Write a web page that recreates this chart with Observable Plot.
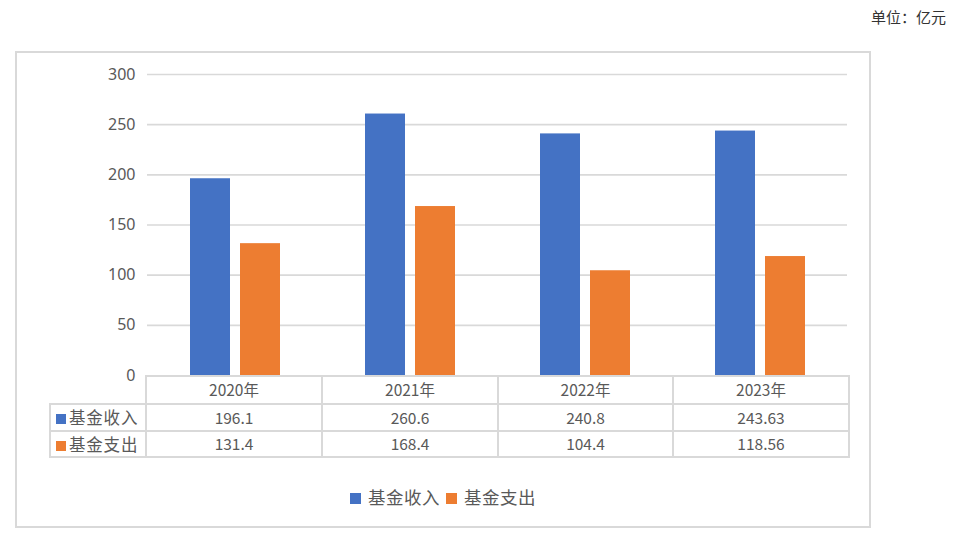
<!DOCTYPE html>
<html>
<head>
<meta charset="utf-8">
<script src="https://cdn.jsdelivr.net/npm/d3@7"></script>
<script src="https://cdn.jsdelivr.net/npm/@observablehq/plot@0.6"></script>
<style>
  html, body { margin: 0; padding: 0; background: #fff; }
  #wrap { position: relative; width: 968px; height: 539px; overflow: hidden;
    font-family: "Noto Sans CJK SC", "Noto Sans", sans-serif; color: #595959; }
  #box { position: absolute; left: 15px; top: 51px; width: 856px; height: 477px;
    box-sizing: border-box; border: 2px solid #d9d9d9; }
  #unit { position: absolute; right: 22px; top: 6px; font-size: 15px; color: #333; }
  #chart { position: absolute; left: 0; top: 0; }
  #tbl { position: absolute; left: 49px; top: 375px; border-collapse: collapse; table-layout: fixed;
    font-size: 15.5px; color: #595959; }
  #tbl td { border: 2px solid #d9d9d9; text-align: center; padding: 0; line-height: 1; }
  #tbl td.blank { border: none; border-bottom: 2px solid #d9d9d9; }
  #tbl td.lab { text-align: left; padding-left: 5px; font-size: 16.5px; letter-spacing: 0.8px; }
  .sw { display: inline-block; width: 10px; height: 10px; margin-right: 3px; vertical-align: 0px; }
  #legend { position: absolute; left: 15px; width: 856px; top: 484px; text-align: center; font-size: 17.5px; color: #595959; letter-spacing: 0.5px; }
  #legend span.item { margin: 0 3px; }
  #legend .sw { width: 11px; height: 11px; margin-right: 7px; }
</style>
</head>
<body>
<div id="wrap">
  <div id="box"></div>
  <div id="unit"></div>
  <div id="chart"></div>
  <table id="tbl"></table>
  <div id="legend"></div>
</div>
<script>
const years = ["2020年", "2021年", "2022年", "2023年"];
const seriesNames = ["基金收入", "基金支出"];
const income = [196.1, 260.6, 240.8, 243.63];
const expense = [131.4, 168.4, 104.4, 118.56];
const incomeLabels = ["196.1", "260.6", "240.8", "243.63"];
const expenseLabels = ["131.4", "168.4", "104.4", "118.56"];
const seriesColors = ["#4472C4", "#ED7D31"];
const yTicks = [0, 50, 100, 150, 200, 250, 300];
const unitText = "单位：亿元";

const data = years.flatMap((y, i) => [
  {year: y, series: seriesNames[0], value: income[i]},
  {year: y, series: seriesNames[1], value: expense[i]}
]);

const chart = Plot.plot({
  width: 968,
  height: 539,
  marginLeft: 145,
  marginRight: 120,
  marginTop: 74,
  marginBottom: 164,
  style: {fontFamily: "'Noto Sans', 'Noto Sans CJK SC', sans-serif", fontSize: "16px", color: "#595959", background: "transparent"},
  fx: {domain: years, padding: 0, axis: null, label: null},
  x: {domain: seriesNames, paddingInner: 0.2, paddingOuter: 0.84, axis: null, label: null},
  y: {domain: [0, 300], ticks: yTicks, tickSize: 0, tickPadding: 12, label: null, tickFormat: d => String(d)},
  color: {domain: seriesNames, range: seriesColors},
  marks: [
    Plot.ruleY(yTicks.filter(d => d > 0), {stroke: "#d9d9d9", strokeWidth: 1.6}),
    Plot.barY(data, {fx: "year", x: "series", y: "value", fill: "series"})
  ]
});
document.getElementById("chart").appendChild(chart);

document.getElementById("unit").textContent = unitText;

// data table under the chart
const colWidths = [96, 176, 176, 175, 176];
const tbl = document.getElementById("tbl");
const cg = document.createElement("colgroup");
colWidths.forEach(w => { const c = document.createElement("col"); c.style.width = w + "px"; cg.appendChild(c); });
tbl.appendChild(cg);
const rowHeights = [28, 27, 26];
function addRow(h, cells) {
  const tr = document.createElement("tr");
  tr.style.height = h + "px";
  cells.forEach(c => tr.appendChild(c));
  tbl.appendChild(tr);
}
function td(text, cls) {
  const c = document.createElement("td");
  if (cls) c.className = cls;
  if (text != null) c.textContent = text;
  return c;
}
addRow(rowHeights[0], [td(null, "blank"), ...years.map(y => td(y))]);
[[incomeLabels, 0], [expenseLabels, 1]].forEach(([labels, k]) => {
  const lab = td(null, "lab");
  const sw = document.createElement("span");
  sw.className = "sw"; sw.style.background = seriesColors[k];
  lab.appendChild(sw);
  lab.appendChild(document.createTextNode(seriesNames[k]));
  addRow(rowHeights[k + 1], [lab, ...labels.map(v => td(v))]);
});

// legend
const legend = document.getElementById("legend");
seriesNames.forEach((s, k) => {
  const it = document.createElement("span");
  it.className = "item";
  const sw = document.createElement("span");
  sw.className = "sw"; sw.style.background = seriesColors[k];
  it.appendChild(sw);
  it.appendChild(document.createTextNode(s));
  legend.appendChild(it);
});
</script>
</body>
</html>
